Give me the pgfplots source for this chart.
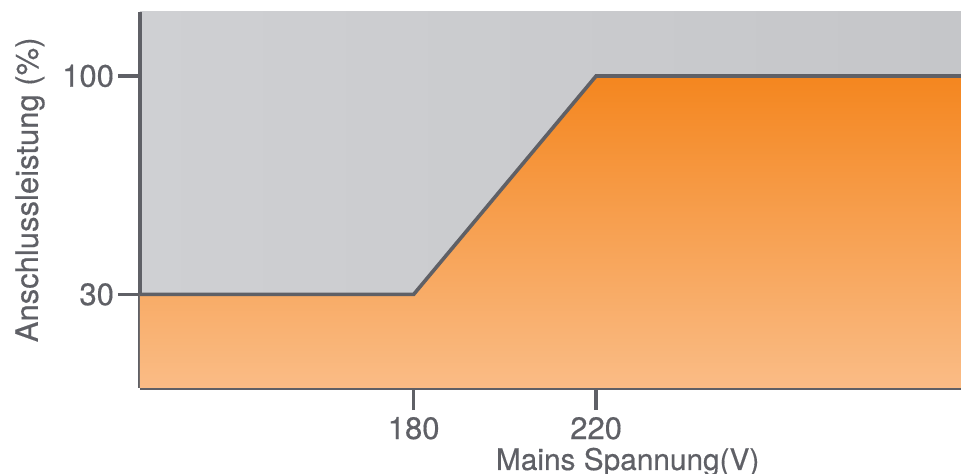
\documentclass[border=0pt]{standalone}
\usepackage{fontspec}
\setmainfont{TeX Gyre Heros}[FakeBold=0.4]
\usepackage{pgfplots}
\pgfplotsset{compat=1.18}

\definecolor{axgray}{RGB}{95,96,102}
\definecolor{bgleft}{RGB}{207,208,211}
\definecolor{bgright}{RGB}{197,198,201}
\definecolor{orangetop}{RGB}{244,134,31}
\definecolor{orangebot}{RGB}{250,188,134}

\begin{document}
\begin{tikzpicture}
  \begin{axis}[
    name=ax,
    scale only axis,
    width=410.5pt, height=188pt,
    xmin=120, xmax=300,
    ymin=0, ymax=120.5,
    axis lines*=left,
    axis line style={axgray, line width=2pt},
    axis background/.style={left color=bgleft, right color=bgright},
    xtick={180,220}, ytick={30,100},
    tick align=outside,
    major tick length=11pt,
    tick style={axgray, line width=1.7pt},
    /pgf/number format/assume math mode=true,
    /pgf/number format/1000 sep={},
    ticklabel style={font=\fontsize{15.5}{18}\selectfont, text=axgray},
    yticklabel style={xshift=1.5pt},
    label style={font=\fontsize{15.5}{18}\selectfont, text=axgray},
    xlabel={Mains Spannung(V)},
    ylabel={Anschlussleistung (\%)},
    xlabel style={font=\fontsize{14.9}{18}\selectfont, at={(axis description cs:0.594,0)}, anchor=base, yshift=-41pt},
    ylabel style={at={(axis description cs:-0.134,0.527)}, anchor=center},
    clip=false,
  ]
    % area under the curve
    \addplot[draw=none, top color=orangetop, bottom color=orangebot]
      coordinates {(120,30) (180,30) (220,100) (300,100)} \closedcycle;
    % curve
    \addplot[axgray, line width=1.8pt, line join=miter, mark=none]
      coordinates {(120,30) (180,30) (220,100) (300,100)};
  \end{axis}
  \pgfresetboundingbox
  \path[use as bounding box] ([xshift=-70pt, yshift=-43pt]ax.south west)
    rectangle ([yshift=6pt]ax.north east);
\end{tikzpicture}
\end{document}
